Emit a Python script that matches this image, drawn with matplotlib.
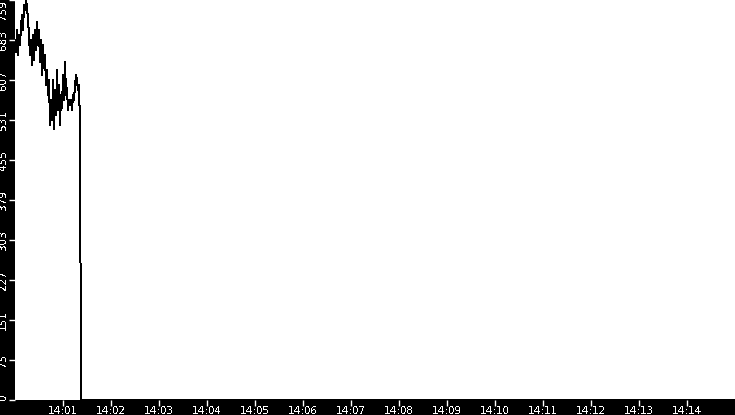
import numpy as np
import matplotlib
matplotlib.use('Agg')
import matplotlib.pyplot as plt
import matplotlib.dates as mdates
from datetime import datetime, timedelta

plt.rcParams['text.antialiased'] = False

# --- data ---
start = datetime(2024, 1, 1, 14, 0, 0)
end = datetime(2024, 1, 1, 14, 15, 0)
step_s = 1.25  # seconds between samples
values = [683, 660, 702, 654, 692, 673, 711, 730, 702, 749,
          740, 759, 744, 721, 692, 654, 683, 635, 692, 645,
          702, 664, 717, 673, 702, 641, 683, 616, 673, 630,
          654, 597, 626, 578, 607, 521, 569, 531, 607, 515,
          588, 540, 626, 550, 597, 521, 578, 553, 616, 569,
          641, 578, 592, 550, 569, 559, 569, 550, 578, 569,
          597, 616, 607, 588, 597, 520, 0]
y_max = 759

times = [start + timedelta(seconds=i * step_s) for i in range(len(values))]
# flat zero until the end of the window
times.append(end)
values.append(0)

fig = plt.figure(figsize=(7.35, 4.15), dpi=100, facecolor='black')
ax = fig.add_axes([15 / 735, 15 / 415, 720 / 735, 400 / 415])
ax.set_facecolor('white')
ax.plot(times, values, color='black', linewidth=0.72, antialiased=False)

ax.set_xlim(start, end)
ax.set_ylim(0, y_max)

xt = [start + timedelta(minutes=m) for m in range(1, 15)]
ax.set_xticks(xt)
ax.xaxis.set_major_formatter(mdates.DateFormatter('%H:%M'))

yt = np.linspace(0, y_max, 11)
ax.set_yticks(yt)
labels = ax.set_yticklabels([str(int(v)) for v in yt], rotation=90, va='center')
labels[0].set_va('bottom')
labels[-1].set_va('top')

ax.tick_params(axis='both', colors='white', labelsize=7.5, length=4, width=1)
ax.tick_params(axis='x', pad=0.5)
ax.tick_params(axis='y', pad=1)
for s in ax.spines.values():
    s.set_visible(False)

fig.savefig('out.png', dpi=100, facecolor='black')
